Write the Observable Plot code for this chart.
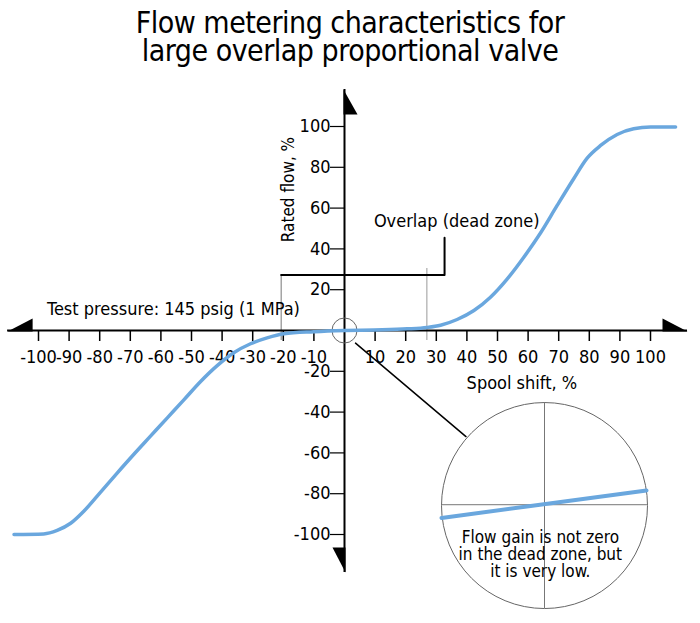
<!DOCTYPE html>
<html>
<head>
<meta charset="utf-8">
<script src="https://cdn.jsdelivr.net/npm/d3@7"></script>
<script src="https://cdn.jsdelivr.net/npm/@observablehq/plot@0.6"></script>
<style>
  html, body { margin: 0; padding: 0; background: #fff; }
  #wrap { width: 700px; height: 623px; position: relative; overflow: hidden; }
  #title {
    box-sizing: border-box; height: 80px; padding-top: 9px;
    font-family: "DejaVu Sans Condensed", "Liberation Sans Narrow", sans-serif;
    font-size: 30px; line-height: 28px; letter-spacing: -0.5px; text-align: center; color: #000;
  }
  svg { display: block; overflow: visible; }
</style>
</head>
<body>
<div id="wrap">
  <div id="title"></div>
  <div id="chart"></div>
</div>
<script>
// ---- Text ----
const titleLines = ["Flow metering characteristics for", "large overlap proportional valve"];
const xLabel = "Spool shift, %";
const yLabel = "Rated flow, %";
const pressureNote = "Test pressure: 145 psig (1 MPa)";
const overlapNote = "Overlap (dead zone)";
const insetNote = "Flow gain is not zero\nin the dead zone, but\nit is very low.";

// ---- Ticks ----
const xTicks = [-100, -90, -80, -70, -60, -50, -40, -30, -20, -10, 10, 20, 30, 40, 50, 60, 70, 80, 90, 100];
const yTicks = [100, 80, 60, 40, 20, -20, -40, -60, -80, -100];

// ---- Flow curve (spool shift %, rated flow %) ----
const flowX = [-108, -98.3, -93.9, -89.5, -85.2, -79.7, -74.3, -68.9, -63.4, -57.9, -52.5, -47.1, -41.6, -36.2, -30.7, -25.3, -19.8, -10, 0,
               9.6, 20.5, 27, 31.4, 36.8, 42.3, 47.7, 53.2, 58.6, 64.1, 69.5, 74.9, 79.3, 83.7, 89.1, 94.5, 100, 108.2];
const flowY = [-100, -99.7, -98, -94.5, -88.6, -79.2, -69.9, -60.8, -51.8, -42.8, -34, -25.1, -17.2, -10.9, -6.5, -3.6, -1.6, -0.6, 0,
               0.3, 0.8, 1.5, 2.6, 5.4, 9.8, 16.3, 25.3, 35.9, 47.9, 61.3, 74.4, 84.5, 90.7, 96.1, 98.9, 99.7, 99.7];

// ---- Annotation anchors (data units) ----
const axisXEnds = [-110.1, 112.1];
const axisYEnds = [-118.6, 118.1];
const overlapBracketX = [-20.7, 32.7, 32.7];
const overlapBracketY = [27.2, 27.2, 45.5];
const overlapLeftEdge = {x: -20.7, y1: 27.2, y2: -4.9};
const overlapRightEdge = {x: 26.9, y1: 30.4, y2: -4.9};
const leaderX = [3.6, 39.7];
const leaderY = [-6.2, -52];
const insetCenter = {x: 65.36, y: -85.8};
const insetCrossH = {x1: 31.7, x2: 99.0, y: -85.4};
const insetCrossV = {x: 65.36, y1: -35.3, y2: -136.3};
const insetSlopeX = [31.7, 98.7];
const insetSlopeY = [-91.9, -78.4];
const labelPos = {
  pressure: {x: -97.2, y: 7.4},
  overlap: {x: 9.6, y: 50.5},
  xLabel: {x: 39.9, y: -28.6},
  yLabel: {x: -16.6, y: 69.1},
  inset: {x: 64.0, y: -120.6}
};

document.getElementById("title").innerHTML = titleLines.join("<br>");

const flow = flowX.map((x, i) => ({x, y: flowY[i]}));
const blue = "#6aa7de";
const font = "'DejaVu Sans Condensed', 'Liberation Sans Narrow', sans-serif";

function tri(points) {
  return {draw(ctx) {
    ctx.moveTo(points[0][0], points[0][1]);
    for (let k = 1; k < points.length; k++) ctx.lineTo(points[k][0], points[k][1]);
    ctx.closePath();
  }};
}
const arrowLeft = tri([[0, 1], [25, -12], [25, 1]]);
const arrowRight = tri([[0, 1], [-25, -12], [-25, 1]]);
const arrowUp = tri([[-1, 0], [13, 25], [-1, 25]]);
const arrowDown = tri([[1, 0], [-12, -25], [1, -25]]);

const chart = Plot.plot({
  width: 700,
  height: 543,
  marginTop: 46,
  marginBottom: 89,
  marginLeft: 38,
  marginRight: 50,
  x: {domain: [-100, 100], axis: null},
  y: {domain: [-100, 100], axis: null},
  style: {fontFamily: font, fontSize: "18px", color: "#000", background: "transparent"},
  marks: [
    // overlap guide lines
    Plot.ruleX([overlapLeftEdge], {x: "x", y1: "y1", y2: "y2", stroke: "#777", strokeWidth: 1}),
    Plot.ruleX([overlapRightEdge], {x: "x", y1: "y1", y2: "y2", stroke: "#bbb", strokeWidth: 1.5}),
    Plot.line(overlapBracketX.map((x, i) => ({x, y: overlapBracketY[i]})), {x: "x", y: "y", stroke: "#000", strokeWidth: 2}),
    // axes
    Plot.ruleY([0], {x1: axisXEnds[0], x2: axisXEnds[1], stroke: "#000", strokeWidth: 2}),
    Plot.ruleX([0], {y1: axisYEnds[0], y2: axisYEnds[1], stroke: "#000", strokeWidth: 2}),
    Plot.ruleX(xTicks, {x: d => d, y1: 0, y2: 0, insetBottom: -11, stroke: "#000", strokeWidth: 1.5}),
    Plot.ruleY(yTicks, {y: d => d, x1: 0, x2: 0, insetLeft: -14, stroke: "#000", strokeWidth: 1.2}),
    Plot.text(xTicks, {x: d => d, y: 0, text: d => String(d), dy: 32, lineAnchor: "bottom", fontSize: 18}),
    Plot.text(yTicks, {x: 0, y: d => d, text: d => String(d), dx: -14, textAnchor: "end", fontSize: 18}),
    // arrow heads
    Plot.dot([{x: axisXEnds[0], y: 0}], {x: "x", y: "y", symbol: arrowLeft, fill: "#000", stroke: null}),
    Plot.dot([{x: axisXEnds[1], y: 0}], {x: "x", y: "y", symbol: arrowRight, fill: "#000", stroke: null}),
    Plot.dot([{x: 0, y: axisYEnds[1]}], {x: "x", y: "y", symbol: arrowUp, fill: "#000", stroke: null}),
    Plot.dot([{x: 0, y: axisYEnds[0]}], {x: "x", y: "y", symbol: arrowDown, fill: "#000", stroke: null}),
    // origin magnifier circle and leader
    Plot.dot([{x: 0, y: 0}], {x: "x", y: "y", r: 12.5, stroke: "#666", strokeWidth: 1, fill: "none"}),
    Plot.line(leaderX.map((x, i) => ({x, y: leaderY[i]})), {x: "x", y: "y", stroke: "#000", strokeWidth: 1.5}),
    // flow curve
    Plot.line(flow, {x: "x", y: "y", curve: "monotone-x", stroke: blue, strokeWidth: 3.5}),
    // inset
    Plot.dot([insetCenter], {x: "x", y: "y", r: 103, stroke: "#666", strokeWidth: 1, fill: "#fff"}),
    Plot.ruleY([insetCrossH], {y: "y", x1: "x1", x2: "x2", stroke: "#777", strokeWidth: 1}),
    Plot.ruleX([insetCrossV], {x: "x", y1: "y1", y2: "y2", stroke: "#777", strokeWidth: 1}),
    Plot.line(insetSlopeX.map((x, i) => ({x, y: insetSlopeY[i]})), {x: "x", y: "y", stroke: blue, strokeWidth: 4}),
    Plot.text([labelPos.inset], {x: "x", y: "y", text: () => insetNote, lineAnchor: "bottom", lineHeight: 1, textAnchor: "middle", fontSize: 17}),
    // labels
    Plot.text([labelPos.pressure], {x: "x", y: "y", text: () => pressureNote, textAnchor: "start", lineAnchor: "bottom", fontSize: 18}),
    Plot.text([labelPos.overlap], {x: "x", y: "y", text: () => overlapNote, textAnchor: "start", lineAnchor: "bottom", fontSize: 18}),
    Plot.text([labelPos.xLabel], {x: "x", y: "y", text: () => xLabel, textAnchor: "start", lineAnchor: "bottom", fontSize: 18}),
    Plot.text([labelPos.yLabel], {x: "x", y: "y", text: () => yLabel, rotate: -90, textAnchor: "middle", lineAnchor: "bottom", fontSize: 17})
  ]
});
document.getElementById("chart").appendChild(chart);
</script>
</body>
</html>
